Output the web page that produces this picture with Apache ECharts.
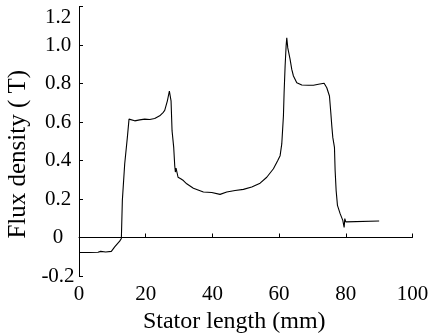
<!DOCTYPE html>
<html>
<head>
<meta charset="utf-8">
<script src="https://cdn.jsdelivr.net/npm/echarts@6/dist/echarts.min.js"></script>
<style>html,body{margin:0;padding:0;background:#fff;}#c{width:434px;height:334px;}</style>
</head>
<body>
<div id="c"></div>
<script>
var xValues = [0, 3, 5.7, 6.5, 8, 9.7, 10.7, 12.2, 12.7, 13.0, 13.7, 14.5, 15.0, 15.4, 16.7, 18.2, 19.7, 21.2, 22.7, 24.2, 25.2, 25.7, 26.5, 27.1, 27.3, 27.6, 27.9, 28.4, 28.7, 28.9, 29.1, 29.7, 30.5, 31.3, 32.3, 34.3, 37.3, 39.8, 42.3, 44.3, 46.8, 49.3, 51.8, 54.3, 56.3, 58.3, 59.6, 60.3, 60.8, 61.3, 61.5, 61.8, 62.1, 62.3, 62.6, 63.3, 63.8, 64.3, 65.3, 66.8, 68.8, 70.3, 71.8, 73.5, 73.7, 74.3, 75.1, 75.5, 75.8, 76.1, 76.6, 76.8, 77.1, 77.5, 78.3, 79.1, 79.5, 79.7, 80.0, 80.3, 90.0];
var fluxValues = [-0.078, -0.078, -0.077, -0.072, -0.075, -0.072, -0.049, -0.019, -0.005, 0.193, 0.382, 0.52, 0.615, 0.623, 0.606, 0.611, 0.615, 0.613, 0.618, 0.632, 0.649, 0.66, 0.71, 0.761, 0.77, 0.71, 0.555, 0.468, 0.374, 0.34, 0.36, 0.313, 0.305, 0.296, 0.279, 0.256, 0.236, 0.234, 0.224, 0.236, 0.244, 0.25, 0.262, 0.282, 0.313, 0.357, 0.4, 0.425, 0.486, 0.632, 0.752, 0.89, 0.994, 1.037, 0.985, 0.925, 0.873, 0.839, 0.804, 0.792, 0.791, 0.791, 0.796, 0.801, 0.808, 0.778, 0.735, 0.649, 0.58, 0.52, 0.468, 0.348, 0.244, 0.167, 0.124, 0.089, 0.052, 0.098, 0.081, 0.086, 0.086];
var xTicks = [0, 20, 40, 60, 80, 100];
var yTicks = [-0.2, 0, 0.2, 0.4, 0.6, 0.8, 1.0, 1.2];
var xName = 'Stator length (mm)';
var yName = 'Flux density ( T)';

var pts = xValues.map(function (x, i) { return [x, fluxValues[i]]; });
var font = 'Liberation Serif';
var chart = echarts.init(document.getElementById('c'), null, {renderer: 'canvas'});
chart.setOption({
  animation: false,
  backgroundColor: '#fff',
  grid: {left: 79, right: 21.5, top: 6.5, bottom: 58, containLabel: false, outerBoundsMode: 'none'},
  xAxis: {
    type: 'value', min: xTicks[0], max: xTicks[xTicks.length - 1], interval: 20,
    name: xName, nameLocation: 'middle', nameGap: 30,
    nameTextStyle: {fontFamily: font, fontSize: 24, color: '#000', padding: [0, 23, 0, 0]},
    axisLine: {show: true, lineStyle: {color: '#000', width: 1}},
    axisTick: {show: true, inside: true, length: 4, lineStyle: {color: '#000'}},
    axisLabel: {fontFamily: font, fontSize: 21, color: '#000', margin: 8},
    splitLine: {show: false}
  },
  yAxis: {
    type: 'value', min: yTicks[0], max: yTicks[yTicks.length - 1], interval: 0.2,
    name: yName, nameLocation: 'middle', nameGap: 46,
    nameTextStyle: {fontFamily: font, fontSize: 25, color: '#000', padding: [0, 26, 0, 0]},
    axisLine: {show: true, lineStyle: {color: '#000', width: 1}},
    axisTick: {show: true, inside: true, length: 4, lineStyle: {color: '#000'}},
    axisLabel: {fontFamily: font, fontSize: 21, color: '#000', margin: 21, align: 'center',
      verticalAlignMaxLabel: 'top',
      formatter: function (v) { return Math.abs(v) < 1e-9 ? '0' : v.toFixed(1); }},
    splitLine: {show: false}
  },
  series: [{
    type: 'line', data: pts, showSymbol: false, symbol: 'none',
    lineStyle: {color: '#000', width: 1.1}
  }]
});
</script>
</body>
</html>
